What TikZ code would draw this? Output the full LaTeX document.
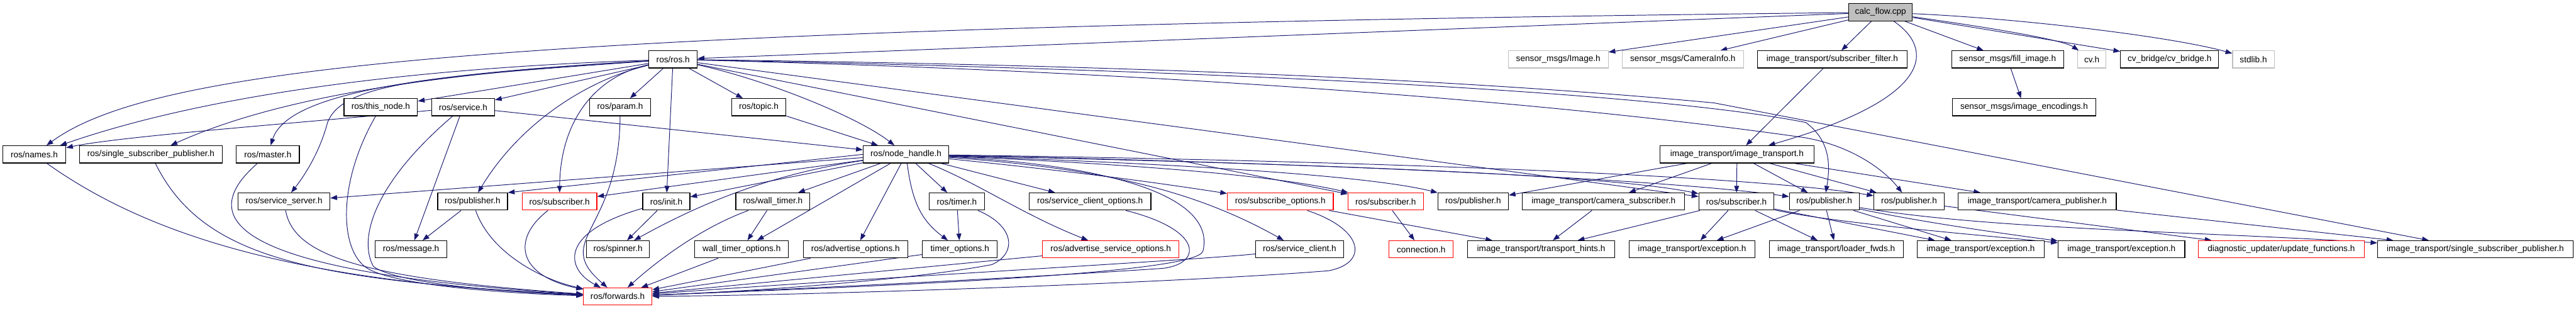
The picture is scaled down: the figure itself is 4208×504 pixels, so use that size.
\documentclass[tikz,border=0pt]{standalone}
\usepackage{fontspec}
\setmainfont{Liberation Sans}
\usetikzlibrary{arrows.meta, backgrounds}
\definecolor{edgeblue}{RGB}{25, 25, 112}
\definecolor{missgray}{RGB}{191, 191, 191}
\definecolor{brokenred}{RGB}{255, 0, 0}

\begin{document}
\begin{tikzpicture}[
  x=1pt, y=-1pt,
  incfile/.style={draw=black, fill=white, rectangle, line width=1.2pt,
                  minimum height=28pt, inner xsep=0pt, inner ysep=0pt,
                  font=\fontsize{14}{16}\selectfont},
  missfile/.style={incfile, draw=missgray},
  redfile/.style={incfile, draw=brokenred},
  dep/.style={-{Triangle[length=11pt, width=8pt]}, line width=1pt, color=edgeblue}
]
\useasboundingbox (0,0) rectangle (4208,504);

% row 0
\node[incfile, fill=missgray, minimum width=104pt] (calc) at (3072,20) {calc\_flow.cpp};
% row 1
\node[incfile, minimum width=79pt] (rosh) at (1099.5,97) {ros/ros.h};
\node[missfile, minimum width=163pt] (img) at (2545.5,97) {sensor\_msgs/Image.h};
\node[missfile, minimum width=198pt] (caminfo) at (2749,97) {sensor\_msgs/CameraInfo.h};
\node[incfile, minimum width=244pt] (subfilter) at (2993,97) {image\_transport/subscriber\_filter.h};
\node[incfile, minimum width=183pt] (fillimg) at (3279.5,97) {sensor\_msgs/fill\_image.h};
\node[missfile, minimum width=46pt] (cvh) at (3417,97) {cv.h};
\node[incfile, minimum width=160pt] (cvbridge) at (3544,97) {cv\_bridge/cv\_bridge.h};
\node[missfile, minimum width=68pt] (stdlib) at (3681,97) {stdlib.h};
% row 2
\node[incfile, minimum width=120pt] (thisnode) at (622,175) {ros/this\_node.h};
\node[incfile, minimum width=103pt] (service) at (756.5,175) {ros/service.h};
\node[incfile, minimum width=100pt] (param) at (1013,175) {ros/param.h};
\node[incfile, minimum width=89pt] (topic) at (1239.5,175) {ros/topic.h};
\node[incfile, minimum width=235pt] (encodings) at (3306.5,175) {sensor\_msgs/image\_encodings.h};
% row 3
\node[incfile, minimum width=103pt] (names) at (56,252) {ros/names.h};
\node[incfile, minimum width=233pt] (ssp) at (246.5,252) {ros/single\_subscriber\_publisher.h};
\node[incfile, minimum width=103pt] (master) at (437.5,252) {ros/master.h};
\node[incfile, minimum width=140pt] (nodehandle) at (1480,252) {ros/node\_handle.h};
\node[incfile, minimum width=251pt] (imgtrans) at (2837.5,252) {image\_transport/image\_transport.h};
% row 4
\node[incfile, minimum width=150pt] (srvserver) at (464,329) {ros/service\_server.h};
\node[incfile, minimum width=114pt] (pub1) at (772,329) {ros/publisher.h};
\node[redfile, minimum width=122pt] (sub1) at (914,329) {ros/subscriber.h};
\node[incfile, minimum width=77pt] (init) at (1088.5,329) {ros/init.h};
\node[incfile, minimum width=121pt] (walltimer) at (1262.5,329) {ros/wall\_timer.h};
\node[incfile, minimum width=90pt] (timer) at (1563,329) {ros/timer.h};
\node[incfile, minimum width=199pt] (srvclientopt) at (1780.5,329) {ros/service\_client\_options.h};
\node[redfile, minimum width=173pt] (subopt) at (2091.5,329) {ros/subscribe\_options.h};
\node[redfile, minimum width=123pt] (sub2) at (2263.5,329) {ros/subscriber.h};
\node[incfile, minimum width=115pt] (pub2) at (2406.5,329) {ros/publisher.h};
\node[incfile, minimum width=265pt] (camsub) at (2619.5,329) {image\_transport/camera\_subscriber.h};
\node[incfile, minimum width=123pt] (sub3) at (2836.5,329) {ros/subscriber.h};
\node[incfile, minimum width=114pt] (pub3) at (2980,329) {ros/publisher.h};
\node[incfile, minimum width=115pt] (pub4) at (3118.5,329) {ros/publisher.h};
\node[incfile, minimum width=258pt] (campub) at (3328,329) {image\_transport/camera\_publisher.h};
% row 5
\node[incfile, minimum width=117pt] (message) at (671.5,407) {ros/message.h};
\node[incfile, minimum width=103pt] (spinner) at (1009.5,407) {ros/spinner.h};
\node[incfile, minimum width=153pt] (walltimeropt) at (1211.5,407) {wall\_timer\_options.h};
\node[incfile, minimum width=171pt] (advopt) at (1397.5,407) {ros/advertise\_options.h};
\node[incfile, minimum width=122pt] (timeropt) at (1568,407) {timer\_options.h};
\node[redfile, minimum width=223pt] (advsrvopt) at (1814.5,407) {ros/advertise\_service\_options.h};
\node[incfile, minimum width=144pt] (srvclient) at (2123,407) {ros/service\_client.h};
\node[redfile, minimum width=105pt] (connection) at (2321.5,407) {connection.h};
\node[incfile, minimum width=241pt] (hints) at (2517.5,407) {image\_transport/transport\_hints.h};
\node[incfile, minimum width=206pt] (exc1) at (2764,407) {image\_transport/exception.h};
\node[incfile, minimum width=219pt] (loaderfwds) at (2999.5,407) {image\_transport/loader\_fwds.h};
\node[incfile, minimum width=207pt] (exc2) at (3235.5,407) {image\_transport/exception.h};
\node[incfile, minimum width=207pt] (exc3) at (3465.5,407) {image\_transport/exception.h};
\node[redfile, minimum width=271pt] (diag) at (3726.5,407) {diagnostic\_updater/update\_functions.h};
\node[incfile, minimum width=319pt] (itssp) at (4043.5,407) {image\_transport/single\_subscriber\_publisher.h};
% row 6
\node[redfile, minimum width=112pt] (forwards) at (1009,484) {ros/forwards.h};

\begin{scope}[on background layer]
  % calc_flow.cpp
  \draw[dep] (calc) -- (rosh);
  \draw[dep] (calc) .. controls (800,45) and (250,110) .. (names);
  \draw[dep] (calc) -- (img);
  \draw[dep] (calc) -- (caminfo);
  \draw[dep] (calc) -- (subfilter);
  \draw[dep] (calc) .. controls (3160,80) and (3160,160) .. (imgtrans);
  \draw[dep] (calc) -- (fillimg);
  \draw[dep] (calc) .. controls (3250,45) and (3370,65) .. (cvh);
  \draw[dep] (calc) -- (cvbridge);
  \draw[dep] (calc) .. controls (3300,30) and (3550,60) .. (stdlib);
  \draw[dep] (subfilter) -- (imgtrans);
  \draw[dep] (fillimg) -- (encodings);

  % ros/ros.h
  \draw[dep] (rosh) .. controls (700,110) and (350,150) .. (names);
  \draw[dep] (rosh) .. controls (700,120) and (450,160) .. (ssp);
  \draw[dep] (rosh) .. controls (700,120) and (470,150) .. (master);
  \draw[dep] (rosh) .. controls (700,125) and (560,135) .. (535,200)
                    .. controls (522,250) and (495,290) .. (srvserver);
  \draw[dep] (rosh) -- (thisnode);
  \draw[dep] (rosh) -- (service);
  \draw[dep] (rosh) -- (param);
  \draw[dep] (rosh) -- (topic);
  \draw[dep] (rosh) .. controls (1250,130) and (1400,190) .. (nodehandle);
  \draw[dep] (rosh) .. controls (960,130) and (850,200) .. (pub1);
  \draw[dep] (rosh) .. controls (970,125) and (915,200) .. (sub1);
  \draw[dep] (rosh) -- (init);
  \draw[dep] (rosh) -- (sub2);
  \draw[dep] (rosh) -- (sub3);
  \draw[dep] (rosh) .. controls (2000,115) and (2700,150) .. (2950,200)
                    .. controls (2990,230) and (2990,270) .. (pub3);
  \draw[dep] (rosh) .. controls (2000,120) and (2600,175) .. (2950,225)
                    .. controls (3030,240) and (3080,280) .. (pub4);
  \draw[dep] (rosh) .. controls (2000,108) and (2500,140) .. (2800,168) -- (itssp);

  % service, topic, param, this_node
  \draw[dep] (service) .. controls (500,200) and (200,222) .. (names);
  \draw[dep] (service) -- (nodehandle);
  \draw[dep] (service) -- (message);
  \draw[dep] (service) .. controls (610,300) and (585,390) .. (610,435)
                       .. controls (650,465) and (850,478) .. (forwards);
  \draw[dep] (topic) -- (nodehandle);
  \draw[dep] (param) .. controls (1012,380) and (900,390) .. (forwards);
  \draw[dep] (thisnode) .. controls (550,300) and (555,410) .. (600,438)
                        .. controls (650,468) and (850,480) .. (forwards);

  % ros/node_handle.h
  \draw[dep] (nodehandle) -- (srvserver);
  \draw[dep] (nodehandle.west) -- (pub1.north east);
  \draw[dep] (nodehandle) -- (sub1);
  \draw[dep] (nodehandle) -- (init);
  \draw[dep] (nodehandle) .. controls (1250,285) and (1130,340) .. (spinner);
  \draw[dep] (nodehandle) -- (walltimer);
  \draw[dep] (nodehandle) -- (walltimeropt);
  \draw[dep] (nodehandle) -- (advopt);
  \draw[dep] (nodehandle) .. controls (1490,330) and (1505,360) .. (timeropt);
  \draw[dep] (nodehandle) -- (timer);
  \draw[dep] (nodehandle) .. controls (1600,300) and (1670,350) .. (advsrvopt);
  \draw[dep] (nodehandle) -- (srvclientopt);
  \draw[dep] (nodehandle) .. controls (1800,275) and (1950,310) .. (srvclient);
  \draw[dep] (nodehandle) .. controls (1800,285) and (1900,300) .. (subopt);
  \draw[dep] (nodehandle) .. controls (1900,270) and (2100,290) .. (sub2);
  \draw[dep] (nodehandle) .. controls (2000,270) and (2250,290) .. (pub2);
  \draw[dep] (nodehandle) .. controls (2000,265) and (2600,280) .. (sub3);
  \draw[dep] (nodehandle) .. controls (2100,265) and (2700,290) .. (pub3);
  \draw[dep] (nodehandle) .. controls (2200,262) and (2850,285) .. (pub4);
  \draw[dep] (nodehandle) .. controls (1850,272) and (1985,330) .. (1965,410)
                          .. controls (1955,445) and (1500,465) .. (forwards);

  % ros headers down to ros/forwards.h
  \draw[dep] (pub1) -- (message);
  \draw[dep] (pub1) .. controls (800,410) and (880,455) .. (forwards);
  \draw[dep] (sub1) .. controls (835,390) and (845,450) .. (forwards);
  \draw[dep] (init) -- (spinner);
  \draw[dep] (init) .. controls (910,380) and (925,440) .. (forwards);
  \draw[dep] (walltimer) -- (walltimeropt);
  \draw[dep] (walltimer) .. controls (1150,370) and (1080,420) .. (forwards);
  \draw[dep] (timer) -- (timeropt);
  \draw[dep] (timer) .. controls (1660,370) and (1660,415) .. (1620,432)
                     .. controls (1500,455) and (1250,475) .. (forwards);
  \draw[dep] (srvclientopt) .. controls (1965,375) and (1965,430) .. (1900,438)
                            .. controls (1700,452) and (1300,472) .. (forwards);
  \draw[dep] (subopt) .. controls (2230,375) and (2235,430) .. (2170,442)
                      .. controls (1950,460) and (1350,482) .. (forwards);
  \draw[dep] (subopt) -- (hints);
  \draw[dep] (sub2) -- (connection);
  \draw[dep] (names) .. controls (250,390) and (500,462) .. (forwards);
  \draw[dep] (ssp) .. controls (330,420) and (500,458) .. (forwards);
  \draw[dep] (master) .. controls (290,380) and (460,450) .. (forwards);
  \draw[dep] (srvserver) .. controls (480,420) and (600,455) .. (forwards);
  \draw[dep] (walltimeropt) -- (forwards);
  \draw[dep] (advopt) -- (forwards);
  \draw[dep] (timeropt) -- (forwards);
  \draw[dep] (advsrvopt) -- (forwards);
  \draw[dep] (srvclient) .. controls (1950,425) and (1400,455) .. (forwards);

  % image_transport
  \draw[dep] (imgtrans) -- (pub2);
  \draw[dep] (imgtrans) -- (camsub);
  \draw[dep] (imgtrans) -- (sub3);
  \draw[dep] (imgtrans) -- (pub3);
  \draw[dep] (imgtrans) -- (pub4);
  \draw[dep] (imgtrans) -- (campub);
  \draw[dep] (camsub) -- (hints);
  \draw[dep] (sub3) -- (hints);
  \draw[dep] (sub3) -- (exc1);
  \draw[dep] (sub3) -- (loaderfwds);
  \draw[dep] (sub3) -- (exc2);
  \draw[dep] (sub3) .. controls (3000,365) and (3250,385) .. (exc3);
  \draw[dep] (pub3) -- (exc1);
  \draw[dep] (pub3) -- (loaderfwds);
  \draw[dep] (pub3) -- (exc2);
  \draw[dep] (pub3) .. controls (3150,365) and (3300,385) .. (exc3);
  \draw[dep] (pub3) .. controls (3250,375) and (3600,378) .. (itssp);
  \draw[dep] (pub4) -- (diag);
  \draw[dep] (campub) -- (itssp);
\end{scope}
\end{tikzpicture}
\end{document}
